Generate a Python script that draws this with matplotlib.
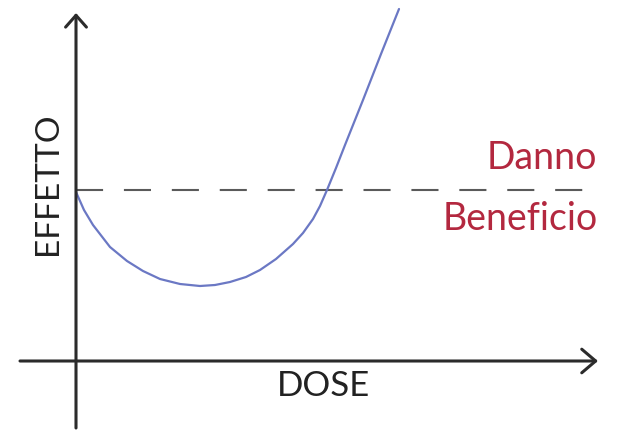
import matplotlib
matplotlib.use("Agg")
import matplotlib.pyplot as plt

# curva dose-effetto (unita' arbitrarie, origine sugli assi)
dose = [0.00, 0.08, 0.17, 0.34, 0.51, 0.67, 0.84, 1.04, 1.24, 1.39, 1.54,
        1.70, 1.84, 2.00, 2.17, 2.27, 2.37, 2.44, 2.51, 2.60, 2.69, 2.87,
        3.05, 3.23]
effetto = [1.69, 1.51, 1.36, 1.14, 1.00, 0.90, 0.82, 0.77, 0.75, 0.76, 0.79,
           0.84, 0.91, 1.02, 1.17, 1.28, 1.42, 1.55, 1.71, 1.93, 2.16, 2.61,
           3.07, 3.52]

soglia = 1.71          # limite danno / beneficio
soglia_fine = 5.14

etichetta_x = "DOSE"
etichetta_y = "EFFETTO"
etichette_soglia = ["Danno", "Beneficio"]

FONT = "Lato"
ROSSO = "#b3283f"
BLU = "#6b78c4"
ASSI = "#2b2b2b"

fig = plt.figure(figsize=(6.21, 4.32), dpi=100)
ax = fig.add_axes([0, 0, 1, 1])
ax.set_xlim(-0.76, 5.45)
ax.set_ylim(-0.71, 3.61)
ax.axis("off")

# assi con freccia
ax.annotate("", xy=(5.22, 0), xytext=(-0.56, 0),
            arrowprops=dict(arrowstyle="->,head_length=1.0,head_width=0.85",
                            color=ASSI, lw=2.2, shrinkA=0, shrinkB=0))
ax.annotate("", xy=(0, 3.48), xytext=(0, -0.67),
            arrowprops=dict(arrowstyle="->,head_length=0.85,head_width=0.75",
                            color=ASSI, lw=2.2, shrinkA=0, shrinkB=0))

# soglia tratteggiata
ax.plot([0, soglia_fine], [soglia, soglia], color="#5a5a5a", lw=1.5,
        dashes=(13, 10))

ax.plot(dose, effetto, color=BLU, lw=1.6, solid_capstyle="round",
        solid_joinstyle="round")

ax.text(2.48, -0.25, etichetta_x, ha="center", va="center",
        fontsize=25, family=FONT, color="#222222")
ax.text(-0.275, 1.77, etichetta_y, ha="center", va="center", rotation=90,
        fontsize=24, family=FONT, color="#222222")
ax.text(5.21, 1.92, etichette_soglia[0], ha="right", va="baseline",
        fontsize=27, family=FONT, color=ROSSO)
ax.text(5.22, 1.31, etichette_soglia[1], ha="right", va="baseline",
        fontsize=27, family=FONT, color=ROSSO)

fig.savefig("out.png", dpi=100)
